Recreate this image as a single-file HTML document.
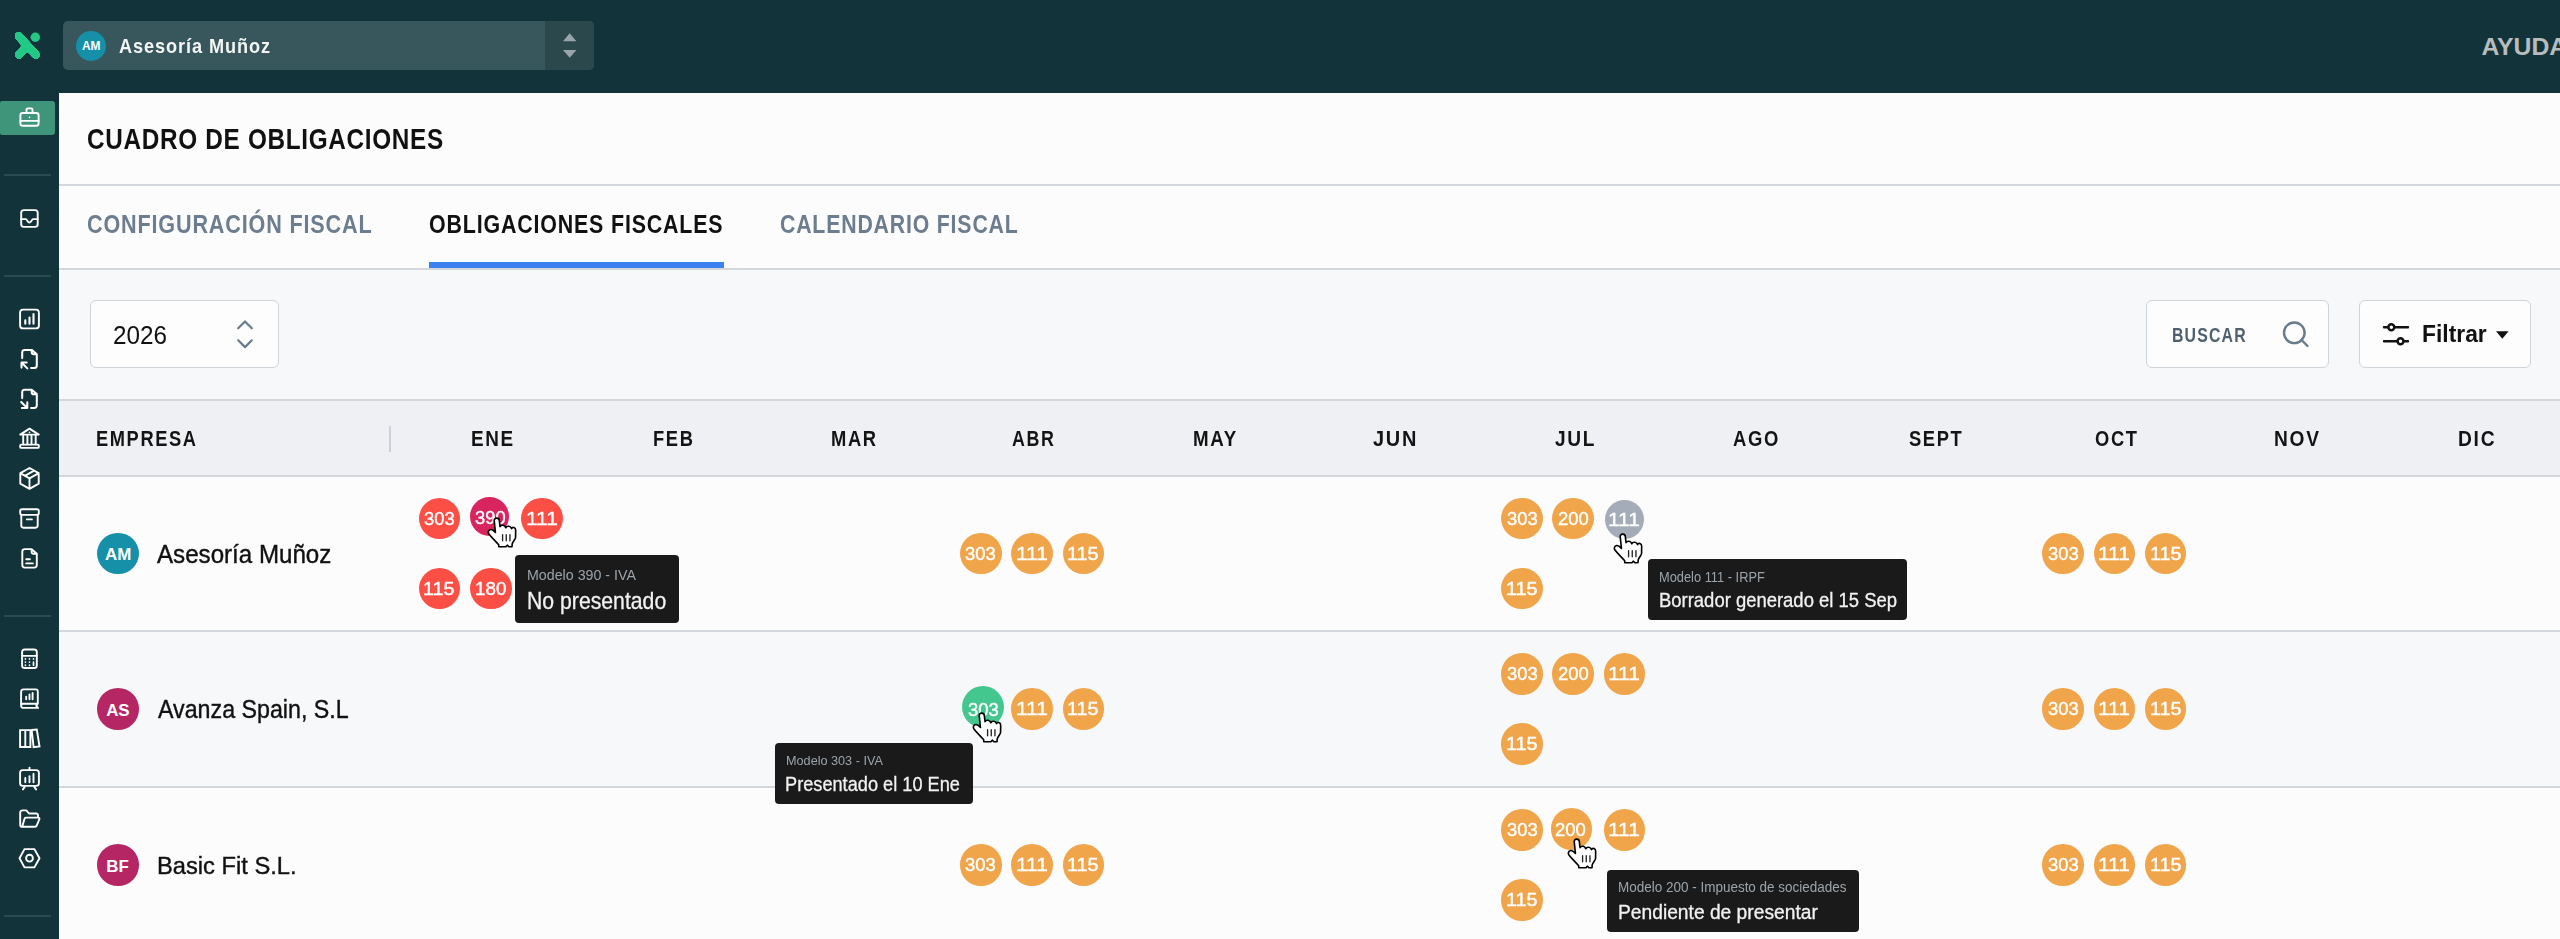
<!DOCTYPE html><html><head><meta charset='utf-8'><style>
*{box-sizing:border-box;margin:0;padding:0}
html,body{width:2560px;height:939px;overflow:hidden;background:#fcfcfd;font-family:"Liberation Sans", sans-serif}
.a{position:absolute}
.t{position:absolute;white-space:nowrap;line-height:1;transform-origin:0 0}
.bd{position:absolute;border-radius:50%}
.o{background:#f0a54b}
.r{background:#fb4e44}
.tip{position:absolute;background:#1a1a1a;border-radius:4px}
.sb svg{position:absolute;fill:none;stroke:#fff;stroke-width:2;stroke-linecap:round;stroke-linejoin:round}
</style></head><body>
<div class='a' style='left:0;top:0;width:2560px;height:93px;background:#13333a'></div>
<svg class='a' style='left:0;top:0' width='60' height='93' viewBox='0 0 60 93'>
<defs><filter id='goo' x='-20%' y='-20%' width='140%' height='140%'><feGaussianBlur stdDeviation='1.3'/><feColorMatrix values='1 0 0 0 0  0 1 0 0 0  0 0 1 0 0  0 0 0 14 -6'/></filter></defs>
<g filter='url(#goo)'><g stroke='#22c986' stroke-width='8.6' stroke-linecap='round' fill='none'>
<line x1='18.6' y1='36.1' x2='35.9' y2='54.9'/><line x1='18.9' y1='54.9' x2='27.3' y2='45.8'/></g></g>
<circle cx='35.3' cy='37.2' r='4.7' fill='#22c986'/></svg>
<div class='a' style='left:63px;top:21px;width:531px;height:49px;border-radius:5px;background:#37575d;overflow:hidden'><div class='a' style='left:482px;top:0;width:49px;height:49px;background:#2b484d'></div></div>
<svg class='a' style='left:545px;top:21px' width='49' height='49' viewBox='0 0 49 49'><path d='M24.7 12.3 L31.4 20.2 L18 20.2 Z M18 28.9 L31.4 28.9 L24.7 36.7 Z' fill='#9aa5ab'/></svg>
<div class='bd' style='left:76px;top:30.5px;width:30px;height:30px;background:#1690a8'></div>
<div class='t' style='left:82.01px;top:40.76px;font-size:11.88px;font-weight:700;color:#fff;transform:scaleX(1.0000);'>AM</div>
<div class='t' style='left:119.15px;top:36.18px;font-size:20.14px;font-weight:700;color:#f3f4f4;transform:scaleX(0.9028);letter-spacing:1.0px;'>Asesoría Muñoz</div>
<div class='t' style='left:2481.38px;top:34.86px;font-size:24.78px;font-weight:700;color:#b9bcbd;transform:scaleX(1.0000);'>AYUDA</div>
<div class='a' style='left:0;top:93px;width:59px;height:846px;background:#13333a'></div>
<div class='a' style='left:0;top:101px;width:55px;height:34px;background:#3f957a;border-radius:2px 3px 3px 2px'></div>
<div class='a' style='left:4px;top:174.2px;width:47px;height:2px;background:#2c4b51'></div>
<div class='a' style='left:4px;top:274.9px;width:47px;height:2px;background:#2c4b51'></div>
<div class='a' style='left:4px;top:614.7px;width:47px;height:2px;background:#2c4b51'></div>
<div class='a' style='left:4px;top:915.4px;width:47px;height:2px;background:#2c4b51'></div>
<svg class='a' style='left:0;top:0' width='60' height='939' viewBox='0 0 60 939' fill='none' stroke='#fff' stroke-width='1.9' stroke-linecap='round' stroke-linejoin='round'>
<rect x='20.4' y='113' width='18.2' height='12.7' rx='2.3'/><path d='M26.5 113v-3.3a1.3 1.3 0 0 1 1.3-1.3h3.4a1.3 1.3 0 0 1 1.3 1.3V113M20.4 120.9h18.2'/><circle cx='29.5' cy='117.4' r='0.8' fill='#fff' stroke='none'/>
<rect x='21.2' y='210.1' width='16.5' height='16.8' rx='2.6'/><path d='M21.2 219.1H26C27 219.1 27.3 222.5 29.4 222.5C31.5 222.5 31.8 219.1 32.9 219.1H37.7'/>
<rect x='20.1' y='309.6' width='18.8' height='18.8' rx='3'/><path d='M25.3 320.3V323.7M29.5 317.5V323.7M33.5 314.1V323.7' stroke-width='2.1'/>
<path d='M22.2 358.1V352.4a2.5 2.5 0 0 1 2.5-2.5H31.7L36.8 354.2V365.5a2.5 2.5 0 0 1-2.5 2.5H31.1M31.7 350v2.5a1.8 1.8 0 0 0 1.8 1.8H36.8M27.3 368.4L21.5 362.5M21.5 362.5H26.7M21.5 362.5V367.6' stroke-width='2.05'/>
<path d='M22.2 398.1V392.3a2.5 2.5 0 0 1 2.5-2.5H31.7L36.8 394.1V405.4a2.5 2.5 0 0 1-2.5 2.5H31.1M31.7 389.9v2.5a1.8 1.8 0 0 0 1.8 1.8H36.8M21.2 402L27.3 408M27.3 408H21.9M27.3 408V402.3' stroke-width='2.05'/>
<path d='M20.2 434.6L29.5 428.6L38.8 434.6Z M23.2 436V444.2M27.4 436V444.2M31.5 436V444.2M35.7 436V444.2'/><circle cx='29.5' cy='432.3' r='0.9' fill='#fff' stroke='none'/><rect x='20.2' y='444.6' width='18.6' height='3.3' rx='1'/>
<path d='M29.5 468L38.7 473.2V483.6L29.5 488.8L20.3 483.6V473.2Z M29.5 478.4L38.7 473.2M29.5 478.4V488.8M29.5 478.4L20.3 473.2M34.1 470.6L24.9 475.8' stroke-width='1.9'/>
<rect x='20.2' y='509.2' width='18.6' height='5.7' rx='1.8'/><path d='M21.3 514.9V525.6a2.1 2.1 0 0 0 2.1 2.1H35.6a2.1 2.1 0 0 0 2.1-2.1V514.9M26.9 519.4H31.9'/>
<path d='M31.6 549.1H24.8a2.5 2.5 0 0 0-2.5 2.5V565.1a2.5 2.5 0 0 0 2.5 2.5H34.3a2.5 2.5 0 0 0 2.5-2.5V553.8ZM31.6 549.1v2.9a1.8 1.8 0 0 0 1.8 1.8H36.8M26.2 559.2H29.9M26.2 563.4H32.9'/>
<rect x='22.1' y='649.5' width='14.7' height='18.5' rx='2.6'/><path d='M22.1 655.8H36.8M25.4 658.9v.1M29.5 658.9v.1M33.5 658.9v.1M25.4 662v.1M29.5 662v.1M25.4 665.2v.1M29.5 665.2v.1M33.5 662V665.2' stroke-width='1.7'/>
<path d='M37.8 703.7V691.4a2 2 0 0 0-2-2H23.6a2.5 2.5 0 0 0-2.5 2.5V705.4a2.5 2.5 0 0 0 2.5 2.5H38M21.1 705.8a2.1 2.1 0 0 1 2.1-2.1H37.8L36.3 705.8L38 707.9M26.2 696.8V699.2M29.5 694.4V699.2M32.6 692.9V699.2'/>
<path d='M20.1 730.1H30.4V747H20.1ZM25.3 730.1V747M31.7 730L36.8 729.5L39.5 746.4L33.6 747.1Z' stroke-linejoin='miter'/>
<rect x='20.1' y='770.1' width='18.8' height='15.8' rx='2.6'/><path d='M29.5 767.6V770.1M24.8 786.7L22.9 789.4M34.2 786.7L36.1 789.4M25.3 778V782.2M29.5 776.2V782.2M33.5 773.8V782.2'/>
<path d='M20.2 825V812.6a2.2 2.2 0 0 1 2.2-2.2H26.3L29 813.5H36a2 2 0 0 1 2 2V817.2M22.2 826.7L24.5 818.8a1.5 1.5 0 0 1 1.4-1.2H38.3a1.2 1.2 0 0 1 1.1 1.6L36.8 825.4a2 2 0 0 1-1.9 1.3H21.8a1.6 1.6 0 0 1-1.6-1.6'/>
<path d='M19.5 858.2L24.5 849.1H34.4L39.5 858.2L34.4 867.4H24.5Z'/><circle cx='29.5' cy='858.2' r='3.4'/>
</svg>
<div class='a' style='left:59px;top:184px;width:2501px;height:2px;background:#d3d7dc'></div>
<div class='t' style='left:87.13px;top:124.95px;font-size:28.70px;font-weight:700;color:#111;transform:scaleX(0.8481);letter-spacing:0.8px;'>CUADRO DE OBLIGACIONES</div>
<div class='t' style='left:87.44px;top:211.95px;font-size:25.51px;font-weight:700;color:#6b7d8e;transform:scaleX(0.8464);letter-spacing:1.0px;'>CONFIGURACIÓN FISCAL</div>
<div class='t' style='left:429.24px;top:211.95px;font-size:25.51px;font-weight:700;color:#111;transform:scaleX(0.8387);letter-spacing:1.0px;'>OBLIGACIONES FISCALES</div>
<div class='t' style='left:780.45px;top:211.95px;font-size:25.51px;font-weight:700;color:#6b7d8e;transform:scaleX(0.8337);letter-spacing:1.0px;'>CALENDARIO FISCAL</div>
<div class='a' style='left:429px;top:262px;width:295px;height:5.5px;background:#3b82f0'></div>
<div class='a' style='left:59px;top:267.5px;width:2501px;height:2px;background:#d3d7dc'></div>
<div class='a' style='left:59px;top:269.5px;width:2501px;height:129.5px;background:#f7f8fa'></div>
<div class='a' style='left:89.6px;top:300px;width:189px;height:68px;border:1.9px solid #cfd4d9;border-radius:6px;background:#fdfdfd'></div>
<div class='t' style='left:113.19px;top:322.83px;font-size:25.63px;font-weight:400;color:#111;transform:scaleX(0.9469);'>2026</div>
<svg class='a' style='left:230px;top:315px' width='30' height='40' viewBox='0 0 30 40'><path d='M8.2 13.3L15 6.5l6.8 6.8M8.2 25.3l6.8 6.8 6.8-6.8' fill='none' stroke='#687b8c' stroke-width='2.2' stroke-linecap='round' stroke-linejoin='round'/></svg>
<div class='a' style='left:2146px;top:300px;width:182.6px;height:68px;border:1.9px solid #cfd4d9;border-radius:6px;background:#fdfdfd'></div>
<div class='t' style='left:2172.23px;top:324.68px;font-size:20.14px;font-weight:700;color:#4e5f6f;transform:scaleX(0.7871);letter-spacing:1.5px;'>BUSCAR</div>
<svg class='a' style='left:2278px;top:317px' width='34' height='34' viewBox='0 0 34 34'><circle cx='16.3' cy='15.8' r='10.3' fill='none' stroke='#687b8c' stroke-width='2.4'/><path d='M23.5 23l6 6' stroke='#687b8c' stroke-width='2.4' stroke-linecap='round'/></svg>
<div class='a' style='left:2358.8px;top:300px;width:172px;height:68px;border:1.9px solid #cfd4d9;border-radius:6px;background:#fdfdfd'></div>
<svg class='a' style='left:2380px;top:318px' width='32' height='32' viewBox='0 0 32 32'><g fill='none' stroke='#111' stroke-width='2.4' stroke-linecap='round'><path d='M4 9.3h4.3M14.5 9.3h13.5M4 23.2h13.5M23.8 23.2h4.2'/><circle cx='11.3' cy='9.3' r='3'/><circle cx='20.5' cy='23.2' r='3'/></g></svg>
<div class='t' style='left:2422.06px;top:323.47px;font-size:23.42px;font-weight:700;color:#111;transform:scaleX(0.9756);'>Filtrar</div>
<svg class='a' style='left:2494px;top:329px' width='17' height='12' viewBox='0 0 17 12'><path d='M2 2.2h12.6L8.3 9.7z' fill='#111'/></svg>
<div class='a' style='left:59px;top:398.8px;width:2501px;height:2px;background:#d3d7dc'></div>
<div class='a' style='left:59px;top:400.8px;width:2501px;height:74px;background:#eff0f3'></div>
<div class='a' style='left:59px;top:474.8px;width:2501px;height:2px;background:#d3d7dc'></div>
<div class='t' style='left:96.47px;top:427.50px;font-size:22.61px;font-weight:700;color:#141414;transform:scaleX(0.8072);letter-spacing:2px;'>EMPRESA</div>
<div class='a' style='left:389.3px;top:425.5px;width:1.6px;height:26.5px;background:#cdd1d7'></div>
<div class='t' style='left:471.12px;top:427.50px;font-size:22.61px;font-weight:700;color:#141414;transform:scaleX(0.8360);letter-spacing:2px;'>ENE</div>
<div class='t' style='left:653.16px;top:427.50px;font-size:22.61px;font-weight:700;color:#141414;transform:scaleX(0.8099);letter-spacing:2px;'>FEB</div>
<div class='t' style='left:830.76px;top:427.50px;font-size:22.61px;font-weight:700;color:#141414;transform:scaleX(0.8119);letter-spacing:2px;'>MAR</div>
<div class='t' style='left:1012.35px;top:427.50px;font-size:22.61px;font-weight:700;color:#141414;transform:scaleX(0.7895);letter-spacing:2px;'>ABR</div>
<div class='t' style='left:1192.64px;top:427.50px;font-size:22.61px;font-weight:700;color:#141414;transform:scaleX(0.8281);letter-spacing:2px;'>MAY</div>
<div class='t' style='left:1373.30px;top:427.50px;font-size:22.61px;font-weight:700;color:#141414;transform:scaleX(0.8827);letter-spacing:2px;'>JUN</div>
<div class='t' style='left:1555.41px;top:427.50px;font-size:22.61px;font-weight:700;color:#141414;transform:scaleX(0.8454);letter-spacing:2px;'>JUL</div>
<div class='t' style='left:1732.64px;top:427.50px;font-size:22.61px;font-weight:700;color:#141414;transform:scaleX(0.8153);letter-spacing:2px;'>AGO</div>
<div class='t' style='left:1909.45px;top:427.50px;font-size:22.61px;font-weight:700;color:#141414;transform:scaleX(0.8112);letter-spacing:2px;'>SEPT</div>
<div class='t' style='left:2094.97px;top:427.50px;font-size:22.61px;font-weight:700;color:#141414;transform:scaleX(0.8107);letter-spacing:2px;'>OCT</div>
<div class='t' style='left:2273.81px;top:427.50px;font-size:22.61px;font-weight:700;color:#141414;transform:scaleX(0.8478);letter-spacing:2px;'>NOV</div>
<div class='t' style='left:2458.40px;top:427.50px;font-size:22.61px;font-weight:700;color:#141414;transform:scaleX(0.8506);letter-spacing:2px;'>DIC</div>
<div class='a' style='left:59px;top:476.8px;width:2501px;height:153.2px;background:#fcfcfd'></div>
<div class='a' style='left:59px;top:632px;width:2501px;height:154px;background:#f7f8fa'></div>
<div class='a' style='left:59px;top:788px;width:2501px;height:151px;background:#fcfcfd'></div>
<div class='a' style='left:59px;top:630px;width:2501px;height:2px;background:#d3d7dc'></div>
<div class='a' style='left:59px;top:786px;width:2501px;height:2px;background:#d3d7dc'></div>
<div class='bd' style='left:96.9px;top:532.7px;width:41.7px;height:41.7px;background:#1690a8'></div>
<div class='t' style='left:104.98px;top:547.07px;font-size:16.96px;font-weight:700;color:#fff;transform:scaleX(1.0000);'>AM</div>
<div class='t' style='left:157.44px;top:542.34px;font-size:24.93px;font-weight:400;color:#111;transform:scaleX(0.9682);-webkit-text-stroke:0.4px #111;'>Asesoría Muñoz</div>
<div class='bd' style='left:96.9px;top:688.2px;width:41.7px;height:41.7px;background:#b52764'></div>
<div class='t' style='left:106.14px;top:702.57px;font-size:16.96px;font-weight:700;color:#fff;transform:scaleX(1.0000);'>AS</div>
<div class='t' style='left:158.44px;top:696.82px;font-size:25.65px;font-weight:400;color:#111;transform:scaleX(0.9058);-webkit-text-stroke:0.4px #111;'>Avanza Spain, S.L</div>
<div class='bd' style='left:96.9px;top:844.2px;width:41.7px;height:41.7px;background:#b52764'></div>
<div class='t' style='left:106.23px;top:858.57px;font-size:16.96px;font-weight:700;color:#fff;transform:scaleX(1.0000);'>BF</div>
<div class='t' style='left:156.94px;top:853.85px;font-size:24.20px;font-weight:400;color:#111;transform:scaleX(0.9799);-webkit-text-stroke:0.4px #111;'>Basic Fit S.L.</div>
<div class='bd r' style='left:418.80px;top:497.75px;width:41.5px;height:41.5px;'></div>
<div class='t' style='left:424.26px;top:509.50px;font-size:18.70px;font-weight:400;color:#fff;transform:scaleX(0.9838);-webkit-text-stroke:0.4px #fff;'>303</div>
<div class='bd r' style='left:521.30px;top:497.75px;width:41.5px;height:41.5px;'></div>
<div class='t' style='left:525.88px;top:509.50px;font-size:18.70px;font-weight:400;color:#fff;transform:scaleX(1.1176);-webkit-text-stroke:0.4px #fff;'>111</div>
<div class='bd ' style='left:470.10px;top:496.70px;width:39px;height:39px;background:#d8245f;'></div>
<div class='t' style='left:474.51px;top:509.00px;font-size:18.70px;font-weight:400;color:#fff;transform:scaleX(0.9808);-webkit-text-stroke:0.4px #fff;'>390</div>
<div class='bd r' style='left:418.80px;top:567.75px;width:41.5px;height:41.5px;'></div>
<div class='t' style='left:423.47px;top:579.50px;font-size:18.70px;font-weight:400;color:#fff;transform:scaleX(1.0571);-webkit-text-stroke:0.4px #fff;'>115</div>
<div class='bd r' style='left:470.05px;top:567.75px;width:41.5px;height:41.5px;'></div>
<div class='t' style='left:474.79px;top:579.50px;font-size:18.70px;font-weight:400;color:#fff;transform:scaleX(1.0044);-webkit-text-stroke:0.4px #fff;'>180</div>
<div class='bd o' style='left:960.00px;top:532.75px;width:41.5px;height:41.5px;'></div>
<div class='t' style='left:965.46px;top:544.50px;font-size:18.70px;font-weight:400;color:#fff;transform:scaleX(0.9838);-webkit-text-stroke:0.4px #fff;'>303</div>
<div class='bd o' style='left:1011.25px;top:532.75px;width:41.5px;height:41.5px;'></div>
<div class='t' style='left:1015.83px;top:544.50px;font-size:18.70px;font-weight:400;color:#fff;transform:scaleX(1.1176);-webkit-text-stroke:0.4px #fff;'>111</div>
<div class='bd o' style='left:1062.50px;top:532.75px;width:41.5px;height:41.5px;'></div>
<div class='t' style='left:1067.17px;top:544.50px;font-size:18.70px;font-weight:400;color:#fff;transform:scaleX(1.0571);-webkit-text-stroke:0.4px #fff;'>115</div>
<div class='bd o' style='left:2042.40px;top:532.75px;width:41.5px;height:41.5px;'></div>
<div class='t' style='left:2047.86px;top:544.50px;font-size:18.70px;font-weight:400;color:#fff;transform:scaleX(0.9838);-webkit-text-stroke:0.4px #fff;'>303</div>
<div class='bd o' style='left:2093.65px;top:532.75px;width:41.5px;height:41.5px;'></div>
<div class='t' style='left:2098.23px;top:544.50px;font-size:18.70px;font-weight:400;color:#fff;transform:scaleX(1.1176);-webkit-text-stroke:0.4px #fff;'>111</div>
<div class='bd o' style='left:2144.90px;top:532.75px;width:41.5px;height:41.5px;'></div>
<div class='t' style='left:2149.57px;top:544.50px;font-size:18.70px;font-weight:400;color:#fff;transform:scaleX(1.0571);-webkit-text-stroke:0.4px #fff;'>115</div>
<div class='bd o' style='left:1501.20px;top:497.75px;width:41.5px;height:41.5px;'></div>
<div class='t' style='left:1506.66px;top:509.50px;font-size:18.70px;font-weight:400;color:#fff;transform:scaleX(0.9838);-webkit-text-stroke:0.4px #fff;'>303</div>
<div class='bd o' style='left:1552.45px;top:497.75px;width:41.5px;height:41.5px;'></div>
<div class='t' style='left:1557.68px;top:509.50px;font-size:18.70px;font-weight:400;color:#fff;transform:scaleX(0.9885);-webkit-text-stroke:0.4px #fff;'>200</div>
<div class='bd ' style='left:1604.70px;top:500.20px;width:39px;height:39px;background:#a3acb8;'></div>
<div class='t' style='left:1607.83px;top:511.40px;font-size:18.70px;font-weight:400;color:#fff;transform:scaleX(1.1176);-webkit-text-stroke:0.4px #fff;'>111</div>
<div class='bd o' style='left:1501.20px;top:567.75px;width:41.5px;height:41.5px;'></div>
<div class='t' style='left:1505.87px;top:579.50px;font-size:18.70px;font-weight:400;color:#fff;transform:scaleX(1.0571);-webkit-text-stroke:0.4px #fff;'>115</div>
<div class='bd ' style='left:961.80px;top:686.00px;width:42px;height:42px;background:#44c78e;'></div>
<div class='t' style='left:967.61px;top:700.50px;font-size:18.70px;font-weight:400;color:#fff;transform:scaleX(0.9838);-webkit-text-stroke:0.4px #fff;'>303</div>
<div class='bd o' style='left:1011.25px;top:688.25px;width:41.5px;height:41.5px;'></div>
<div class='t' style='left:1015.83px;top:700.00px;font-size:18.70px;font-weight:400;color:#fff;transform:scaleX(1.1176);-webkit-text-stroke:0.4px #fff;'>111</div>
<div class='bd o' style='left:1062.50px;top:688.25px;width:41.5px;height:41.5px;'></div>
<div class='t' style='left:1067.17px;top:700.00px;font-size:18.70px;font-weight:400;color:#fff;transform:scaleX(1.0571);-webkit-text-stroke:0.4px #fff;'>115</div>
<div class='bd o' style='left:1501.20px;top:653.25px;width:41.5px;height:41.5px;'></div>
<div class='t' style='left:1506.66px;top:665.00px;font-size:18.70px;font-weight:400;color:#fff;transform:scaleX(0.9838);-webkit-text-stroke:0.4px #fff;'>303</div>
<div class='bd o' style='left:1552.45px;top:653.25px;width:41.5px;height:41.5px;'></div>
<div class='t' style='left:1557.68px;top:665.00px;font-size:18.70px;font-weight:400;color:#fff;transform:scaleX(0.9885);-webkit-text-stroke:0.4px #fff;'>200</div>
<div class='bd o' style='left:1603.70px;top:653.25px;width:41.5px;height:41.5px;'></div>
<div class='t' style='left:1608.28px;top:665.00px;font-size:18.70px;font-weight:400;color:#fff;transform:scaleX(1.1176);-webkit-text-stroke:0.4px #fff;'>111</div>
<div class='bd o' style='left:1501.20px;top:723.25px;width:41.5px;height:41.5px;'></div>
<div class='t' style='left:1505.87px;top:735.00px;font-size:18.70px;font-weight:400;color:#fff;transform:scaleX(1.0571);-webkit-text-stroke:0.4px #fff;'>115</div>
<div class='bd o' style='left:2042.40px;top:688.25px;width:41.5px;height:41.5px;'></div>
<div class='t' style='left:2047.86px;top:700.00px;font-size:18.70px;font-weight:400;color:#fff;transform:scaleX(0.9838);-webkit-text-stroke:0.4px #fff;'>303</div>
<div class='bd o' style='left:2093.65px;top:688.25px;width:41.5px;height:41.5px;'></div>
<div class='t' style='left:2098.23px;top:700.00px;font-size:18.70px;font-weight:400;color:#fff;transform:scaleX(1.1176);-webkit-text-stroke:0.4px #fff;'>111</div>
<div class='bd o' style='left:2144.90px;top:688.25px;width:41.5px;height:41.5px;'></div>
<div class='t' style='left:2149.57px;top:700.00px;font-size:18.70px;font-weight:400;color:#fff;transform:scaleX(1.0571);-webkit-text-stroke:0.4px #fff;'>115</div>
<div class='bd o' style='left:960.00px;top:844.25px;width:41.5px;height:41.5px;'></div>
<div class='t' style='left:965.46px;top:856.00px;font-size:18.70px;font-weight:400;color:#fff;transform:scaleX(0.9838);-webkit-text-stroke:0.4px #fff;'>303</div>
<div class='bd o' style='left:1011.25px;top:844.25px;width:41.5px;height:41.5px;'></div>
<div class='t' style='left:1015.83px;top:856.00px;font-size:18.70px;font-weight:400;color:#fff;transform:scaleX(1.1176);-webkit-text-stroke:0.4px #fff;'>111</div>
<div class='bd o' style='left:1062.50px;top:844.25px;width:41.5px;height:41.5px;'></div>
<div class='t' style='left:1067.17px;top:856.00px;font-size:18.70px;font-weight:400;color:#fff;transform:scaleX(1.0571);-webkit-text-stroke:0.4px #fff;'>115</div>
<div class='bd o' style='left:2042.40px;top:844.25px;width:41.5px;height:41.5px;'></div>
<div class='t' style='left:2047.86px;top:856.00px;font-size:18.70px;font-weight:400;color:#fff;transform:scaleX(0.9838);-webkit-text-stroke:0.4px #fff;'>303</div>
<div class='bd o' style='left:2093.65px;top:844.25px;width:41.5px;height:41.5px;'></div>
<div class='t' style='left:2098.23px;top:856.00px;font-size:18.70px;font-weight:400;color:#fff;transform:scaleX(1.1176);-webkit-text-stroke:0.4px #fff;'>111</div>
<div class='bd o' style='left:2144.90px;top:844.25px;width:41.5px;height:41.5px;'></div>
<div class='t' style='left:2149.57px;top:856.00px;font-size:18.70px;font-weight:400;color:#fff;transform:scaleX(1.0571);-webkit-text-stroke:0.4px #fff;'>115</div>
<div class='bd o' style='left:1501.20px;top:809.25px;width:41.5px;height:41.5px;'></div>
<div class='t' style='left:1506.66px;top:821.00px;font-size:18.70px;font-weight:400;color:#fff;transform:scaleX(0.9838);-webkit-text-stroke:0.4px #fff;'>303</div>
<div class='bd o' style='left:1550.65px;top:807.85px;width:41.7px;height:41.7px;'></div>
<div class='t' style='left:1555.48px;top:820.70px;font-size:18.70px;font-weight:400;color:#fff;transform:scaleX(0.9885);-webkit-text-stroke:0.4px #fff;'>200</div>
<div class='bd o' style='left:1603.70px;top:809.25px;width:41.5px;height:41.5px;'></div>
<div class='t' style='left:1608.28px;top:821.00px;font-size:18.70px;font-weight:400;color:#fff;transform:scaleX(1.1176);-webkit-text-stroke:0.4px #fff;'>111</div>
<div class='bd o' style='left:1501.20px;top:879.25px;width:41.5px;height:41.5px;'></div>
<div class='t' style='left:1505.87px;top:891.00px;font-size:18.70px;font-weight:400;color:#fff;transform:scaleX(1.0571);-webkit-text-stroke:0.4px #fff;'>115</div>
<div class='tip' style='left:514.9px;top:555.4px;width:164px;height:67.5px'></div>
<div class='t' style='left:527.12px;top:568.13px;font-size:14.64px;font-weight:400;color:#9ba4ab;transform:scaleX(0.9732);'>Modelo 390 - IVA</div>
<div class='t' style='left:526.55px;top:590.21px;font-size:23.19px;font-weight:400;color:#f2f2f2;transform:scaleX(0.9151);-webkit-text-stroke:0.3px #f2f2f2;'>No presentado</div>
<div class='tip' style='left:1648.4px;top:558.7px;width:258.2px;height:61px'></div>
<div class='t' style='left:1659.44px;top:569.72px;font-size:14.06px;font-weight:400;color:#9ba4ab;transform:scaleX(0.9137);'>Modelo 111 - IRPF</div>
<div class='t' style='left:1658.58px;top:590.79px;font-size:19.42px;font-weight:400;color:#f2f2f2;transform:scaleX(0.9508);-webkit-text-stroke:0.3px #f2f2f2;'>Borrador generado el 15 Sep</div>
<div class='tip' style='left:774.8px;top:742.5px;width:198.5px;height:61px'></div>
<div class='t' style='left:785.75px;top:753.59px;font-size:13.62px;font-weight:400;color:#9ba4ab;transform:scaleX(0.9302);'>Modelo 303 - IVA</div>
<div class='t' style='left:784.80px;top:773.77px;font-size:20.87px;font-weight:400;color:#f2f2f2;transform:scaleX(0.8718);-webkit-text-stroke:0.3px #f2f2f2;'>Presentado el 10 Ene</div>
<div class='tip' style='left:1607.4px;top:869.8px;width:251.3px;height:62px'></div>
<div class='t' style='left:1618.09px;top:881.47px;font-size:13.77px;font-weight:400;color:#9ba4ab;transform:scaleX(0.9792);'>Modelo 200 - Impuesto de sociedades</div>
<div class='t' style='left:1617.61px;top:902.77px;font-size:19.57px;font-weight:400;color:#f2f2f2;transform:scaleX(0.9825);-webkit-text-stroke:0.3px #f2f2f2;'>Pendiente de presentar</div>
<svg class='a' style='left:480.1px;top:509px' width='44' height='42' viewBox='0 0 984 939'><path d='M345 525 L318 260 C312 190 425 185 432 255 L448 395 C470 350 560 350 575 420 C600 370 690 375 705 440 C725 392 800 405 798 480 L795 640 C783 690 732 730 720 780 L716 845 L650 845 L610 810 L580 845 L420 845 L418 800 C360 730 260 640 200 560 C170 520 190 470 240 460 C280 455 315 490 345 525 Z' fill='#fff' stroke='#000' stroke-width='36' stroke-linejoin='round'/><path d='M505 575V712M587 575V712M670 575V712' stroke='#222' stroke-width='30' stroke-linecap='round'/></svg>
<svg class='a' style='left:1605.5px;top:525.3px' width='44' height='42' viewBox='0 0 984 939'><path d='M345 525 L318 260 C312 190 425 185 432 255 L448 395 C470 350 560 350 575 420 C600 370 690 375 705 440 C725 392 800 405 798 480 L795 640 C783 690 732 730 720 780 L716 845 L650 845 L610 810 L580 845 L420 845 L418 800 C360 730 260 640 200 560 C170 520 190 470 240 460 C280 455 315 490 345 525 Z' fill='#fff' stroke='#000' stroke-width='36' stroke-linejoin='round'/><path d='M505 575V712M587 575V712M670 575V712' stroke='#222' stroke-width='30' stroke-linecap='round'/></svg>
<svg class='a' style='left:965.3px;top:703.8px' width='44' height='42' viewBox='0 0 984 939'><path d='M345 525 L318 260 C312 190 425 185 432 255 L448 395 C470 350 560 350 575 420 C600 370 690 375 705 440 C725 392 800 405 798 480 L795 640 C783 690 732 730 720 780 L716 845 L650 845 L610 810 L580 845 L420 845 L418 800 C360 730 260 640 200 560 C170 520 190 470 240 460 C280 455 315 490 345 525 Z' fill='#fff' stroke='#000' stroke-width='36' stroke-linejoin='round'/><path d='M505 575V712M587 575V712M670 575V712' stroke='#222' stroke-width='30' stroke-linecap='round'/></svg>
<svg class='a' style='left:1560px;top:830px' width='44' height='42' viewBox='0 0 984 939'><path d='M345 525 L318 260 C312 190 425 185 432 255 L448 395 C470 350 560 350 575 420 C600 370 690 375 705 440 C725 392 800 405 798 480 L795 640 C783 690 732 730 720 780 L716 845 L650 845 L610 810 L580 845 L420 845 L418 800 C360 730 260 640 200 560 C170 520 190 470 240 460 C280 455 315 490 345 525 Z' fill='#fff' stroke='#000' stroke-width='36' stroke-linejoin='round'/><path d='M505 575V712M587 575V712M670 575V712' stroke='#222' stroke-width='30' stroke-linecap='round'/></svg>
</body></html>
